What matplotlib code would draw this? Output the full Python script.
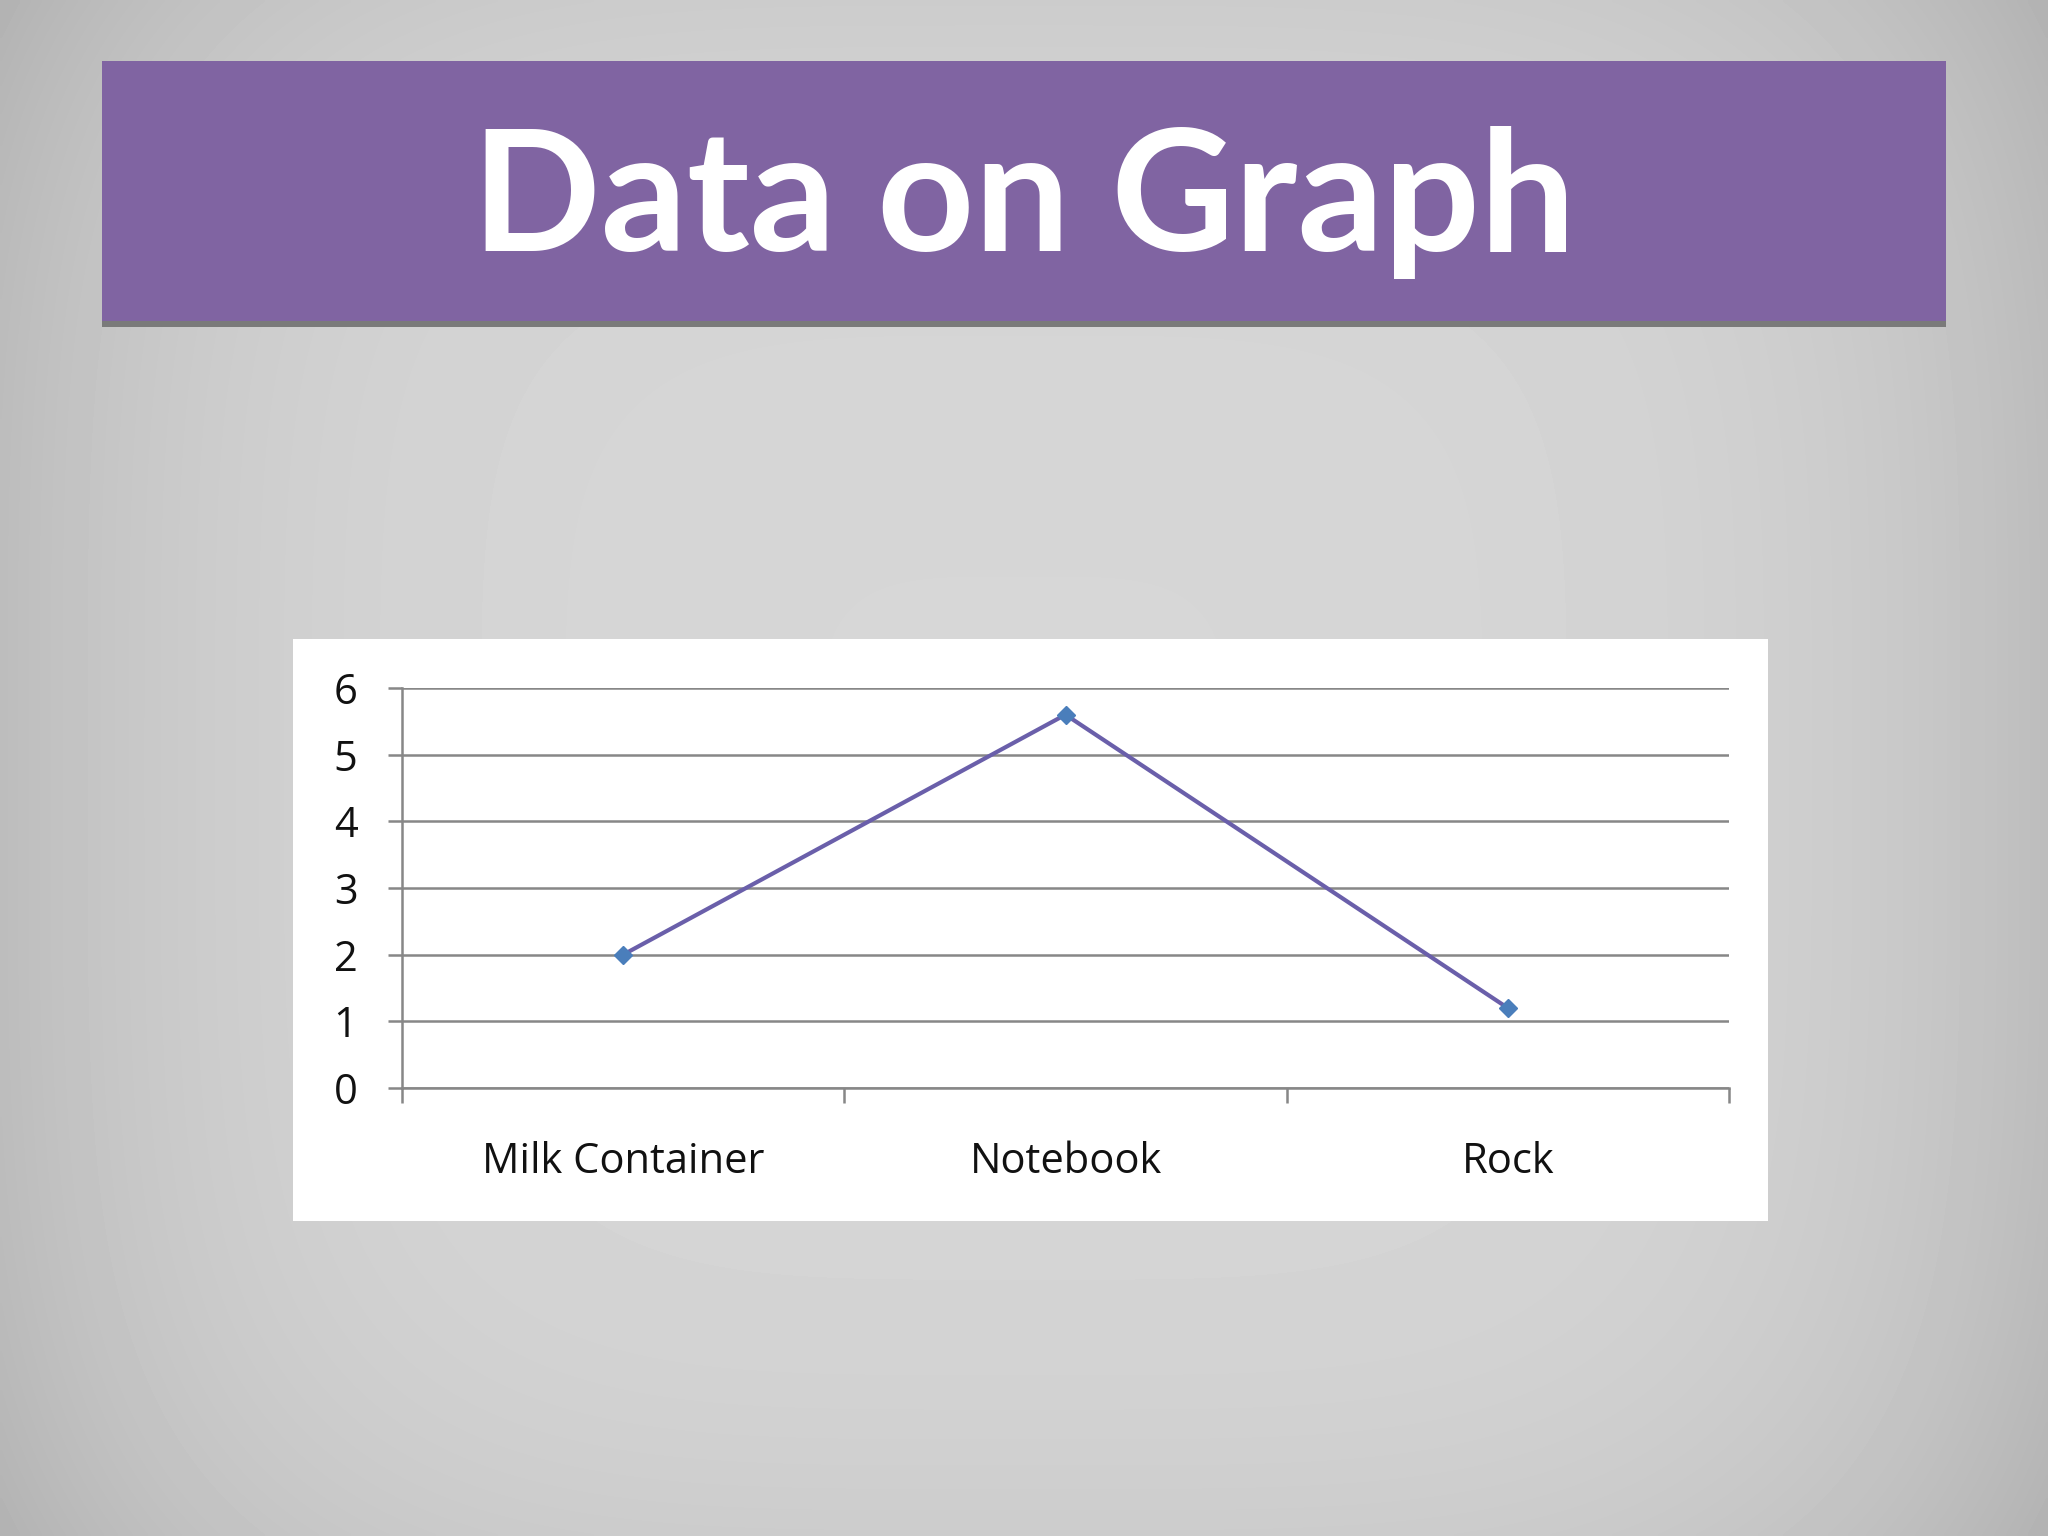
import numpy as np
import matplotlib
matplotlib.use("Agg")
import matplotlib.pyplot as plt
from matplotlib.patches import Rectangle

categories = ["Milk Container", "Notebook", "Rock"]
values = [2.0, 5.6, 1.2]
yticks = [0, 1, 2, 3, 4, 5, 6]
title = "Data on Graph"

W, H = 2048, 1536
fig = plt.figure(figsize=(W / 100, H / 100), dpi=100)

def fx(px):
    return px / W

def fy(py):
    return 1 - py / H

# brushed-metal style background (smooth vignette)
bg = fig.add_axes([0, 0, 1, 1])
bg.set_zorder(-10)
bg.set_axis_off()
xx = np.linspace(-1, 1, 512)
yy = np.linspace(-1, 1, 384)
X, Y = np.meshgrid(xx, yy)
shade = 0.84 - 0.10 * (np.abs(X) ** 4) - 0.04 * (np.abs(Y) ** 4)
bg.imshow(shade, cmap="gray", vmin=0, vmax=1, extent=[0, 1, 0, 1],
          aspect="auto", interpolation="bilinear")
bg.set_xlim(0, 1)
bg.set_ylim(0, 1)

# banner
fig.patches.append(Rectangle((fx(102), fy(327)), fx(1946) - fx(102), fy(321) - fy(327),
                             transform=fig.transFigure, facecolor="#7a7a7a", edgecolor="none", zorder=1))
fig.patches.append(Rectangle((fx(102), fy(321)), fx(1946) - fx(102), fy(61) - fy(321),
                             transform=fig.transFigure, facecolor="#8064A2", edgecolor="none", zorder=2))
fig.text(fx(1024), fy(251), title, ha="center", va="baseline", color="white",
         fontsize=122, fontweight="bold", family=["Lato", "DejaVu Sans"], zorder=3)

# white chart box
fig.patches.append(Rectangle((fx(293), fy(1221)), fx(1768) - fx(293), fy(639) - fy(1221),
                             transform=fig.transFigure, facecolor="white", edgecolor="none", zorder=1))

ax = fig.add_axes([fx(402), fy(1088), fx(1729) - fx(402), fy(688) - fy(1088)])
ax.set_zorder(5)
ax.set_facecolor("none")
x = np.arange(len(categories))
ax.plot(x, values, color="#6A5FAA", lw=3.0, marker="D", markersize=9.5,
        markerfacecolor="#4A7EBB", markeredgecolor="#4A7EBB", zorder=4, clip_on=False)
ax.set_xlim(-0.5, len(categories) - 0.5)
ax.set_ylim(0, 6)
ax.set_yticks(yticks)
ax.set_yticklabels([str(t) for t in yticks])
ax.yaxis.grid(True, color="#878787", lw=1.8)
ax.set_axisbelow(True)
for s in ["top", "right"]:
    ax.spines[s].set_visible(False)
for s in ["left", "bottom"]:
    ax.spines[s].set_color("#878787")
    ax.spines[s].set_linewidth(1.8)
ax.set_xticks(np.arange(-0.5, len(categories), 1.0))
ax.set_xticklabels([])
ax.set_xticks(x, minor=True)
ax.set_xticklabels(categories, minor=True)
ax.tick_params(axis="x", which="major", length=11, width=1.8, color="#878787", direction="out")
ax.tick_params(axis="x", which="minor", length=0, pad=38, labelsize=30)
ax.tick_params(axis="y", length=10, width=1.8, color="#878787", direction="out", pad=22, labelsize=30)
for lab in ax.get_xticklabels(minor=True) + ax.get_yticklabels():
    lab.set_family(["Open Sans", "DejaVu Sans"])
    lab.set_color("#111111")

fig.savefig("out.png", dpi=100)
